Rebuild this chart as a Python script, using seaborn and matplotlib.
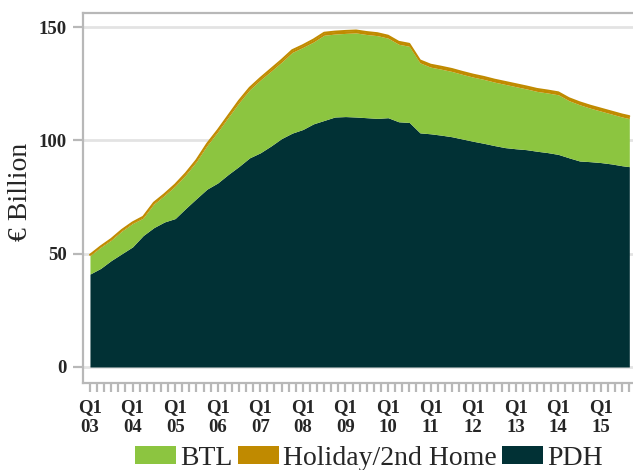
import numpy as np
import pandas as pd
import seaborn as sns
import matplotlib
matplotlib.use("Agg")
import matplotlib.pyplot as plt
from matplotlib.patches import Patch
from matplotlib.ticker import MultipleLocator

# months since Jan 2003 (quarterly readings, last one Sep 2015)
months = list(range(0, 151, 3)) + [152]

total = [49.5, 53.2, 56.5, 60.5, 63.8, 66.3, 72.5, 76.3, 80.5, 85.5,
         91.3, 98.5, 104.5, 111.0, 117.5, 123.2, 127.5, 131.5, 135.5, 139.8,
         142.0, 144.5, 147.5, 148.0, 148.3, 148.5, 147.8, 147.3, 146.2, 143.5,
         142.6, 135.3, 133.4, 132.5, 131.5, 130.2, 129.0, 128.0, 126.8, 125.8,
         124.8, 123.8, 122.7, 122.0, 121.2, 118.6, 116.8, 115.3, 114.0, 112.7,
         111.4, 110.7]

pdh = [41.0, 43.5, 47.0, 50.0, 53.0, 58.0, 61.5, 64.0, 65.5, 70.0,
       74.3, 78.5, 81.2, 85.0, 88.5, 92.3, 94.5, 97.5, 100.8, 103.2,
       104.8, 107.3, 108.8, 110.3, 110.5, 110.3, 110.0, 109.7, 110.0, 108.2,
       107.9, 103.3, 102.9, 102.3, 101.6, 100.6, 99.6, 98.7, 97.7, 96.8,
       96.3, 95.9, 95.2, 94.6, 93.8, 92.3, 90.9, 90.6, 90.2, 89.6,
       88.8, 88.4]

holiday = [0.4, 0.4, 0.5, 0.5, 0.5, 0.6, 0.6, 0.6, 0.7, 0.7,
           0.7, 0.8, 0.8, 0.8, 0.9, 0.9, 0.9, 1.0, 1.0, 1.0,
           1.0, 1.1, 1.1, 1.1, 1.1, 1.1, 1.1, 1.1, 1.1, 1.1,
           1.1, 1.1, 1.1, 1.1, 1.1, 1.1, 1.1, 1.1, 1.1, 1.1,
           1.1, 1.1, 1.1, 1.1, 1.1, 1.1, 1.1, 1.1, 1.1, 1.1,
           1.1, 1.1]

btl = [t - p - h for t, p, h in zip(total, pdh, holiday)]

year_labels = ["03", "04", "05", "06", "07", "08", "09", "10", "11", "12", "13", "14", "15"]
series_names = ["BTL", "Holiday/2nd Home", "PDH"]
colors = {"BTL": "#8cc540", "Holiday/2nd Home": "#c08a00", "PDH": "#013135"}

df = pd.DataFrame({"t": np.array(months) / 12.0, "PDH": pdh, "BTL": btl,
                   "Holiday/2nd Home": holiday})
df["lvl1"] = df["PDH"]
df["lvl2"] = df["PDH"] + df["BTL"]
df["lvl3"] = df["lvl2"] + df["Holiday/2nd Home"]

sns.set_theme(style="white")
plt.rcParams["font.family"] = ["Liberation Serif", "DejaVu Serif"]

fig = plt.figure(figsize=(6.33, 4.70), dpi=100)
ax = fig.add_axes([83 / 633, 1 - 383 / 470, (633 - 83) / 633 + 0.01, (383 - 13) / 470])

ax.fill_between(df["t"], 0, df["lvl1"], color=colors["PDH"], lw=0, zorder=3)
ax.fill_between(df["t"], df["lvl1"], df["lvl2"], color=colors["BTL"], lw=0, zorder=3)
ax.fill_between(df["t"], df["lvl2"], df["lvl3"], color=colors["Holiday/2nd Home"], lw=0, zorder=3)
sns.lineplot(data=df, x="t", y="lvl3", ax=ax, color=colors["Holiday/2nd Home"], lw=1.4, zorder=4)

ax.set_xlim(-7 / 42.75, 543 / 42.75 + 0.2)
ax.set_ylim(-7.06, 156.2)

ax.set_yticks([0, 50, 100, 150])
ax.set_yticklabels(["0", "50", "100", "150"], fontsize=13.5, fontweight="bold")
ax.yaxis.grid(True, color="#e3e3e3", lw=2, zorder=0)
ax.tick_params(axis="y", which="major", length=7.5, width=1.6, color="#b8b8b8", pad=4, left=True)

ax.set_xticks(range(13))
ax.set_xticklabels([f"Q1\n{y}" for y in year_labels], fontsize=13.5, fontweight="bold", linespacing=1.25)
ax.xaxis.set_minor_locator(MultipleLocator(1 / 6))
ax.tick_params(axis="x", which="both", length=6.5, width=1.6, color="#b8b8b8", bottom=True, pad=5)

for side in ["left", "top", "bottom"]:
    ax.spines[side].set_color("#b8b8b8")
    ax.spines[side].set_linewidth(1.6)
ax.spines["right"].set_visible(False)

ax.set_xlabel("")
ax.set_ylabel("€ Billion", fontsize=20)
ax.yaxis.set_label_coords(-0.089, 0.516)

handles = [Patch(facecolor=colors[n], edgecolor="none", label=n) for n in series_names]
fig.legend(handles=handles, loc="center", bbox_to_anchor=(0.583, 0.0255), ncol=3,
           frameon=False, fontsize=20, handlelength=1.47, handleheight=0.65,
           handletextpad=0.15, columnspacing=0.2, borderpad=0.2)

fig.savefig("out.png", dpi=100)
